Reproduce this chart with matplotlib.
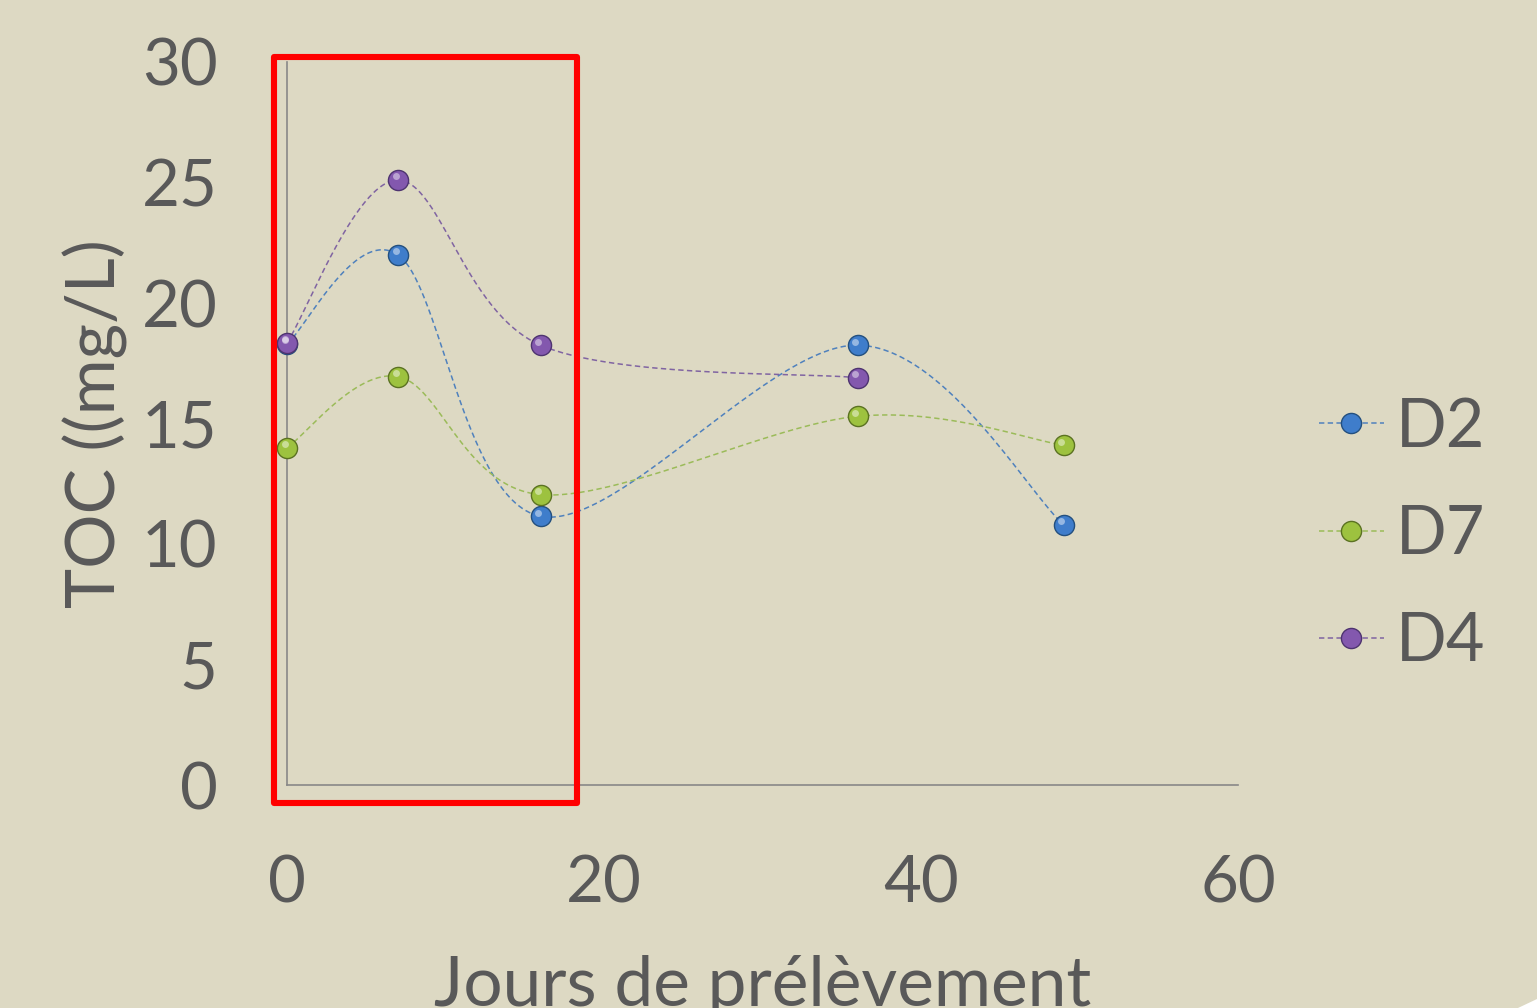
import numpy as np
import matplotlib
matplotlib.use("Agg")
import matplotlib.pyplot as plt
from matplotlib.patches import Rectangle, Polygon
from matplotlib.lines import Line2D
import matplotlib.transforms as mtransforms

# ---- data ----
series_names = ["D2", "D7", "D4"]
d2_x = [0, 7, 16, 36, 49]
d2_y = [18.3, 22.0, 11.15, 18.25, 10.8]
d7_x = [0, 7, 16, 36, 49]
d7_y = [14.0, 16.95, 12.05, 15.3, 14.1]
d4_x = [0, 7, 16, 36]
d4_y = [18.35, 25.1, 18.25, 16.9]
x_ticks = [0, 20, 40, 60]
y_ticks = [0, 5, 10, 15, 20, 25, 30]

line_colors = ["#4F81BD", "#9BBB59", "#8064A2"]
marker_colors = ["#3F7DCB", "#9DC23F", "#8358AE"]
edge_colors = ["#24507F", "#5B7222", "#4E3470"]
BG = "#DDD9C3"
TXT = "#595959"

plt.rcParams['font.family'] = ['Lato', 'DejaVu Sans']


def smooth(xs, ys, n=60):
    pts = np.column_stack([xs, ys]).astype(float)
    out = []
    m = len(pts)
    for i in range(m - 1):
        p1, p2 = pts[i], pts[i + 1]
        p0 = pts[i - 1] if i > 0 else p1
        p3 = pts[i + 2] if i + 2 < m else p2
        c1 = p1 + (p2 - p0) / 6.0
        c2 = p2 - (p3 - p1) / 6.0
        t = np.linspace(0, 1, n)[:, None]
        seg = ((1 - t) ** 3) * p1 + 3 * ((1 - t) ** 2) * t * c1 + 3 * (1 - t) * t ** 2 * c2 + t ** 3 * p2
        out.append(seg if i == 0 else seg[1:])
    seg = np.vstack(out)
    return seg[:, 0], seg[:, 1]


fig = plt.figure(figsize=(15.37, 10.08), dpi=100, facecolor=BG)
ax = fig.add_axes([287 / 1537, 1 - 785 / 1008, 951 / 1537, 723 / 1008])
ax.set_facecolor(BG)

data = [(d2_x, d2_y), (d7_x, d7_y), (d4_x, d4_y)]
handles = []
hl_off = mtransforms.ScaledTranslation(-1.6 / 72, 2.6 / 72, fig.dpi_scale_trans)
MS = 14.5
for (xs, ys), lc, mc, ec, name in zip(data, line_colors, marker_colors, edge_colors, series_names):
    sx, sy = smooth(xs, ys)
    ax.plot(sx, sy, color=lc, lw=1.1, dashes=(3.5, 2.2), zorder=2, clip_on=False)
    ax.plot(xs, ys, ls="none", marker="o", ms=MS, mfc=mc, mec=ec, mew=1.0, zorder=3, clip_on=False)
    ax.plot(xs, ys, ls="none", marker="o", ms=5, mfc="white", mec="none", alpha=0.45,
            zorder=4, clip_on=False, transform=ax.transData + hl_off)
    handles.append(Line2D([], [], color=lc, lw=1.1, dashes=(3.5, 2.2), marker="o", ms=MS,
                          mfc=mc, mec=ec, mew=1.0))

ax.set_xlim(0, 60)
ax.set_ylim(0, 30)
ax.set_xticks(x_ticks)
ax.set_yticks(y_ticks)
ax.tick_params(length=0, labelsize=47, labelcolor=TXT)
ax.tick_params(axis="y", pad=50)
ax.tick_params(axis="x", pad=50)
for s in ["top", "right"]:
    ax.spines[s].set_visible(False)
for s in ["left", "bottom"]:
    ax.spines[s].set_color("#888888")
    ax.spines[s].set_linewidth(1.2)

ax.set_xlabel("Jours de prélèvement", fontsize=50, color=TXT, labelpad=30)
ax.set_ylabel("TOC ((mg/L)", fontsize=49, color=TXT, labelpad=10)

leg = ax.legend(handles, series_names, loc="center left", bbox_to_anchor=(1.085, 0.346),
                frameon=False, fontsize=48, labelcolor=TXT, handlelength=0.97,
                handletextpad=0.18, labelspacing=0.68, borderaxespad=0, borderpad=0)

# highlight box
ax.add_patch(Rectangle((-0.85, -0.75), 19.15, 30.95, fill=False, ec="#FF0000", lw=4.4,
                       clip_on=False, zorder=5, joinstyle="round"))

# slide corner
fig.patches.append(Polygon([[1518 / 1537, 0], [1, 0], [1, 9 / 1008]], closed=True,
                           transform=fig.transFigure, fc="white", ec="none"))

fig.savefig("out.png", dpi=100, facecolor=BG)
